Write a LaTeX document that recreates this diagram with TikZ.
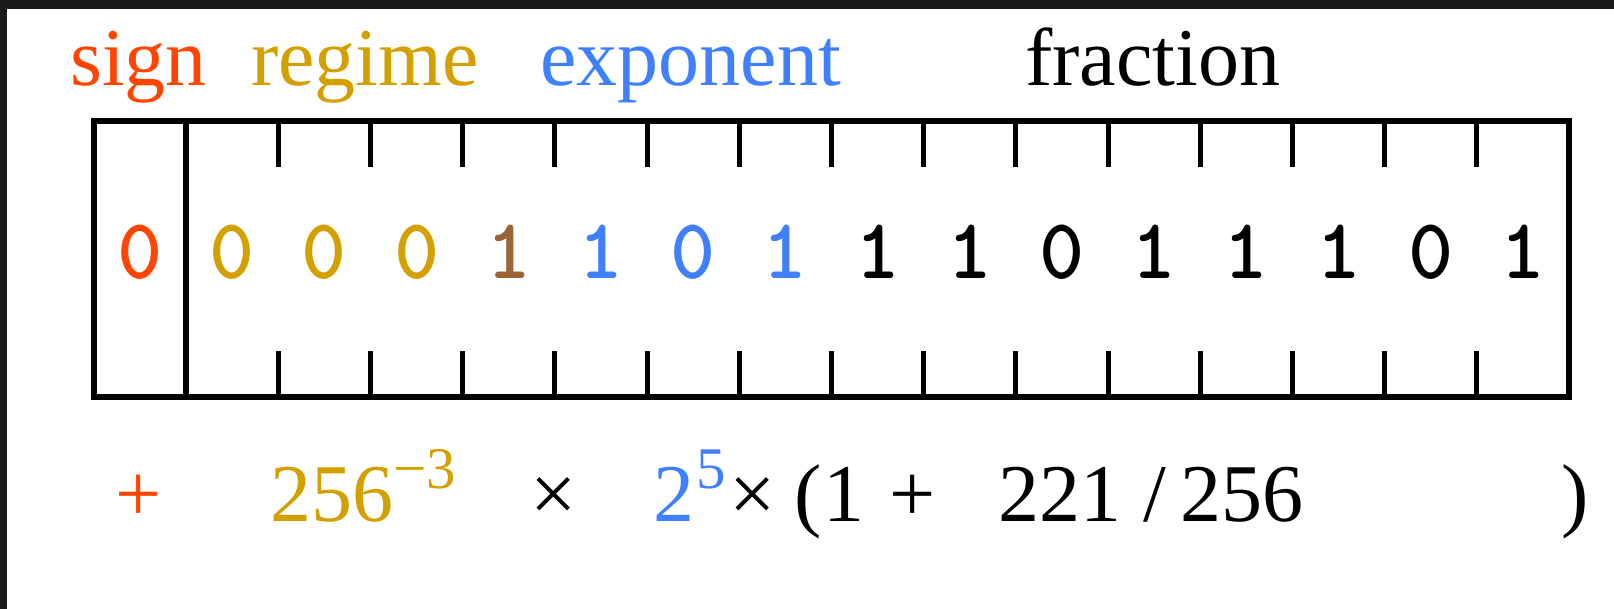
\documentclass[tikz,border=0pt]{standalone}
\usepackage{fontspec}
\setmainfont{Liberation Serif}
\definecolor{signc}{RGB}{255,69,0}
\definecolor{regc}{RGB}{212,160,0}
\definecolor{termc}{RGB}{155,100,52}
\definecolor{expc}{RGB}{64,128,255}
\definecolor{framec}{RGB}{27,27,27}
\begin{document}
\begin{tikzpicture}[x=1pt,y=-1pt,
  lbl/.style={anchor=base west, inner sep=0pt, font=\fontsize{82}{90}\selectfont},
  bit/.style={anchor=base, inner sep=0pt, font=\ttfamily\bfseries\fontsize{86}{90}\selectfont},
  frmw/.style={anchor=base west, inner sep=0pt, font=\fontsize{82}{90}\selectfont},
  frmc/.style={anchor=base, inner sep=0pt, font=\fontsize{82}{90}\selectfont},
  supw/.style={anchor=base west, inner sep=0pt, font=\fontsize{59}{64}\selectfont},
  boxline/.style={line width=6pt},
  tickline/.style={line width=5pt}]
\useasboundingbox (0,0) rectangle (1614,609);
\fill[white] (0,0) rectangle (1614,609);
\fill[framec] (0,0) rectangle (1614,9);
\fill[framec] (0,0) rectangle (7,609);
% labels
\node[lbl,text=signc] (lsign) at (70,86) {sign};
\node[lbl,text=regc] (lreg) at (251,86) {regime};
\node[lbl,text=expc] (lexp) at (540,86) {exponent};
\node[lbl,text=black] (lfrac) at (1025,86) {fraction};
% box
\coordinate (tl) at (94,121);
\coordinate (br) at (1569,397);
\draw[boxline] (tl) rectangle (br);
\coordinate (st) at (186,121);
\coordinate (sb) at (186,397);
\draw[boxline] (st) -- (sb);
\foreach \k in {1,...,14} {
  \coordinate (tt\k) at ({186+92.2*\k},121);
  \coordinate (bt\k) at ({186+92.2*\k},397);
  \draw[tickline] (tt\k) -- ++(0,46);
  \draw[tickline] (bt\k) -- ++(0,-46);
}
% bits
\foreach \b/\c [count=\i from 0] in {0/signc,0/regc,0/regc,0/regc,1/termc,1/expc,0/expc,1/expc,1/black,1/black,0/black,1/black,1/black,1/black,0/black,1/black}
  \node[bit,text=\c] (b\i) at ({140+92.2*\i},279) {\b};
% formula
\node[frmc,text=signc] (fplus) at (139,521) {+};
\node[frmw,text=regc] (f256) at (270,521) {256};
\node[supw,text=regc] (fm3) at (393,488) {−3};
\node[frmc,text=black] (ftimes1) at (554,521) {×};
\node[frmw,text=expc] (ftwo) at (653,521) {2};
\node[supw,text=expc] (ffive) at (696,488) {5};
\node[frmc,text=black] (ftimes2) at (753,521) {×};
\node[frmw,text=black] (fpar) at (794,521) {(};
\node[frmc,text=black] (fone) at (844,521) {1};
\node[frmc,text=black] (fplus2) at (913,521) {+};
\node[frmw,text=black] (f221) at (998,521) {221};
\node[frmc,text=black] (fslash) at (1155,521) {/};
\node[frmw,text=black] (f256b) at (1180,521) {256};
\node[frmc,text=black] (fclose) at (1575,521) {)};
\end{tikzpicture}
\end{document}
